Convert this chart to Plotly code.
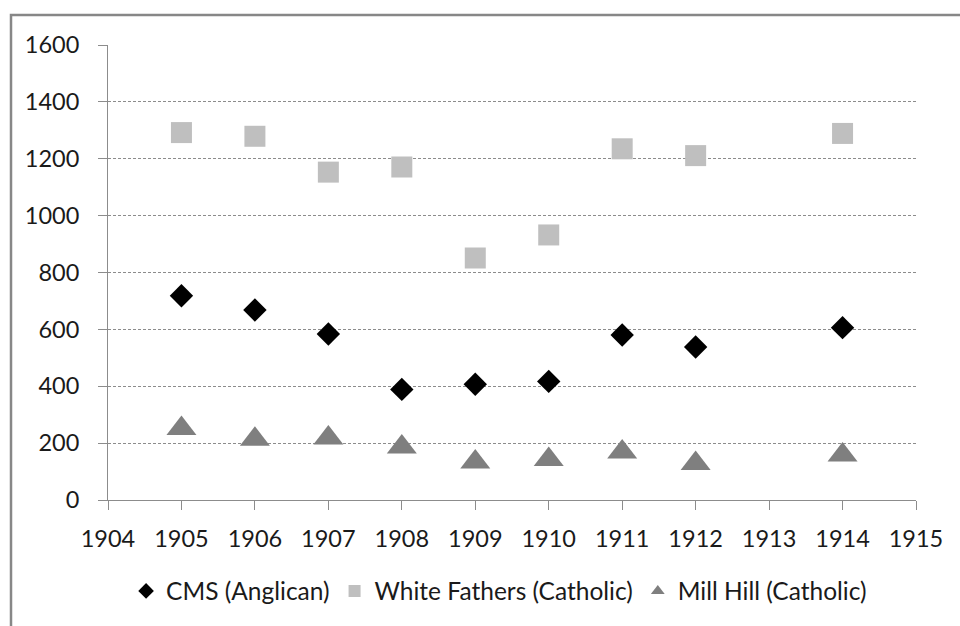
import plotly.graph_objects as go

# Annual figures by mission society
years_cms = [1905, 1906, 1907, 1908, 1909, 1910, 1911, 1912, 1914]
cms_anglican = [718, 668, 584, 389, 407, 417, 580, 538, 606]

years_wf = [1905, 1906, 1907, 1908, 1909, 1910, 1911, 1912, 1914]
white_fathers = [1292, 1279, 1153, 1171, 851, 932, 1235, 1211, 1289]

years_mh = [1905, 1906, 1907, 1908, 1909, 1910, 1911, 1912, 1914]
mill_hill = [251, 214, 218, 186, 134, 142, 169, 128, 158]

x_ticks = list(range(1904, 1916))
y_ticks = list(range(0, 1601, 200))

FONT = "Lato, 'Open Sans', sans-serif"
AXIS_GREY = "#8c8c8c"

fig = go.Figure()
fig.add_trace(go.Scatter(
    x=years_cms, y=cms_anglican, mode="markers", name="CMS (Anglican)",
    marker=dict(symbol="diamond", size=18, color="#000000"),
))
fig.add_trace(go.Scatter(
    x=years_wf, y=white_fathers, mode="markers", name="White Fathers (Catholic)",
    marker=dict(symbol="square", size=21, color="#bfbfbf"),
))
fig.add_trace(go.Scatter(
    x=years_mh, y=mill_hill, mode="markers", name="Mill Hill (Catholic)",
    marker=dict(symbol="triangle-up", size=26, color="#7f7f7f"),
))

fig.update_layout(
    width=960, height=626,
    margin=dict(l=108, r=44, t=45, b=126),
    paper_bgcolor="white", plot_bgcolor="white",
    font=dict(family=FONT, size=23.5, color="#1a1a1a"),
    showlegend=True,
    legend=dict(
        orientation="h", x=0.484, xanchor="center", y=-0.2, yanchor="middle",
        font=dict(size=24.5), itemsizing="constant", itemwidth=30,
        bgcolor="rgba(0,0,0,0)",
    ),
    xaxis=dict(
        range=[1904, 1915], tickvals=x_ticks, ticktext=[str(v) for v in x_ticks],
        showgrid=False, zeroline=False,
        showline=True, linecolor=AXIS_GREY, linewidth=1,
        ticks="outside", ticklen=9, tickcolor=AXIS_GREY, tickwidth=1,
        ticklabelstandoff=9,
    ),
    yaxis=dict(
        range=[0, 1600], tickvals=y_ticks,
        showgrid=True, gridcolor="#8c8c8c", gridwidth=1, griddash="3px,2px",
        zeroline=False,
        showline=True, linecolor=AXIS_GREY, linewidth=1,
        ticks="outside", ticklen=9, tickcolor=AXIS_GREY, tickwidth=1,
        ticklabelstandoff=14,
    ),
    shapes=[dict(
        type="rect", xref="paper", yref="paper",
        x0=-97 / 808, x1=1.2, y0=-0.5, y1=1 + 30 / 455,
        line=dict(color="#878787", width=2.5), fillcolor="rgba(0,0,0,0)",
        layer="below",
    )],
)

fig.write_html("out.html")
